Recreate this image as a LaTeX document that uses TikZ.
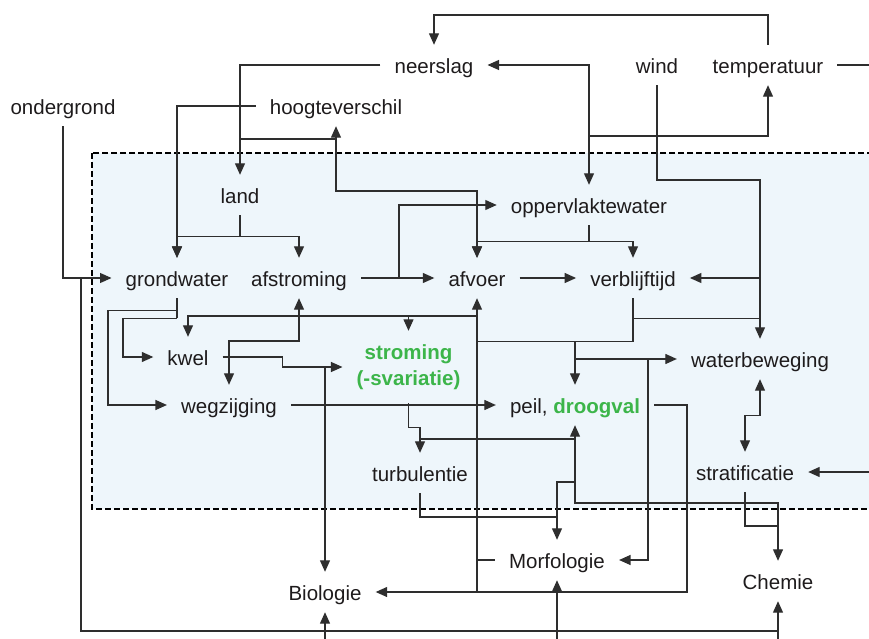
\documentclass[tikz,border=0pt]{standalone}
\usepackage{fontspec}
\setmainfont{Liberation Sans}
\usetikzlibrary{arrows.meta}
\definecolor{ln}{HTML}{2E2E2E}
\definecolor{txt}{HTML}{1E1B1C}
\definecolor{grn}{HTML}{3CB54A}
\definecolor{zone}{HTML}{EEF6FB}
\begin{document}
\begin{tikzpicture}[x=1pt,y=-1pt,
  lbl/.style={inner xsep=14pt, inner ysep=0pt, minimum height=40pt,
    text height=17pt, text depth=0pt,
    font=\fontsize{20.5pt}{24.6pt}\selectfont, text=txt},
  strom/.style={inner xsep=14pt, inner ysep=13.7pt, align=center,
    font=\fontsize{20.5pt}{25.5pt}\selectfont\bfseries, text=grn},
  link/.style={draw=ln, line width=1.2pt},
  tip/.tip={Triangle[length=11.5pt,width=10pt]},
  arr/.style={link, -tip},
  arrs/.style={link, tip-tip},
  zonebox/.style={fill=zone, draw=black, line width=1.4pt, dash pattern=on 6pt off 3pt}
]
\useasboundingbox (0,0) rectangle (869,639);

% water system zone
\draw[zonebox] (92,153) rectangle (878,509);

% factors
\node[lbl] (neerslag) at (434,65) {neerslag};
\node[lbl] (wind) at (657,65) {wind};
\node[lbl] (temperatuur) at (768,65) {temperatuur};
\node[lbl] (ondergrond) at (63,106) {ondergrond};
\node[lbl] (hoogteverschil) at (336,106) {hoogteverschil};
\node[lbl] (land) at (240,195) {land};
\node[lbl] (opp) at (589,205) {oppervlaktewater};
\node[lbl] (grondwater) at (177,278) {grondwater};
\node[lbl] (afstroming) at (299,278) {afstroming};
\node[lbl] (afvoer) at (477,278) {afvoer};
\node[lbl] (verblijftijd) at (633,278) {verblijftijd};
\node[lbl] (kwel) at (188,357) {kwel};
\node[strom] (stroming) at (408.5,367) {stroming\\(-svariatie)};
\node[lbl] (waterbeweging) at (760,359) {waterbeweging};
\node[lbl] (wegzijging) at (229,405) {wegzijging};
\node[lbl] (peil) at (575,405) {peil, \textcolor{grn}{\bfseries droogval}};
\node[lbl] (turbulentie) at (420,473) {turbulentie};
\node[lbl] (stratificatie) at (745,472) {stratificatie};
\node[lbl] (Morfologie) at (557,560) {Morfologie};
\node[lbl] (Biologie) at (325,592) {Biologie};
\node[lbl] (Chemie) at (778,581) {Chemie};

% helper levels
\coordinate (tl) at (600,15);
\coordinate (lh) at (240,139);
\coordinate (hb) at (400,191);
\coordinate (og) at (81,278);
\coordinate (bl) at (81,631);
\coordinate (edge) at (0,641);
\coordinate (ao) at (399,278);
\coordinate (ot) at (589,136);
\coordinate (wb) at (700,180);
\coordinate (wv) at (760,278);
\coordinate (pw) at (575,359);
\coordinate (mw) at (648,359);
\coordinate (pc) at (687,592);
\coordinate (k1) at (477,316);
\coordinate (aw) at (299,341);
\coordinate (pc2) at (700,503);
\coordinate (t1) at (575,439);
\coordinate (t2) at (575,482);
\coordinate (t3) at (0,517);
\coordinate (s1) at (0,526);
\coordinate (re) at (872,472);

% climate and relief
\draw[arr] (temperatuur.north) |- (tl) -| (neerslag.north);
\draw[arr] (neerslag.west) -| (land.north);
\draw[link] (lh) -- (lh -| hoogteverschil.south);
\draw[arrs] (hoogteverschil.south) |- (hb) -| (afvoer.north);
\draw[arr] (hoogteverschil.west) -| (grondwater.north);
\draw[arr] (ondergrond.south) |- (grondwater.west);
\draw[link] (og) -- (bl) -- (bl -| Chemie.south);
\draw[link] (temperatuur.east) -- ++(40,0);

% inputs from below
\draw[arr] (Biologie.south |- edge) -- (Biologie.south);
\draw[arr] (Morfologie.south |- edge) -- (Morfologie.south);
\draw[arr] (Chemie.south |- edge) -- (Chemie.south);

% land
\draw[link] (land.south) -- ++(0,21) coordinate (ls);
\draw[arr] (ls) -| (grondwater.north);
\draw[arr] (ls) -| (afstroming.north);

% surface water
\draw[arr] (afstroming.east) -- (afvoer.west);
\draw[arr] (ao) |- (opp.west);
\draw[arrs] (neerslag.east) -| (opp.north);
\draw[arr] (ot) -| (temperatuur.south);
\draw[link] (opp.south) -- ++(0,16) coordinate (os);
\draw[arr] (os) -| (afvoer.north);
\draw[arr] (os) -| (verblijftijd.north);
\draw[arr] (afvoer.east) -- (verblijftijd.west);

% wind
\draw[arr] (wind.south) |- (wb) -| (waterbeweging.north);
\draw[arr] (wv) -- (verblijftijd.east);

% residence time
\draw[link] (verblijftijd.south) -- ++(0,43) coordinate (vs) -- (vs -| afvoer.south);
\draw[link] (verblijftijd.south) ++(0,20) coordinate (vw) -- (vw -| waterbeweging.north);
\draw[arr] (vs -| peil.north) -- (peil.north);
\draw[arr] (pw) -- (waterbeweging.west);
\draw[arr] (mw) |- (Morfologie.east);

% discharge
\draw[arrs] (afvoer.south) |- (Biologie.east);
\draw[link] (Morfologie.west) -- (Morfologie.west -| afvoer.south);
\draw[link] (peil.east) -| (pc) -- (pc -| afvoer.south);
\draw[arr] (k1) -| (kwel.north);
\draw[arr] (k1 -| stroming.north) -- (stroming.north);
\draw[arrs] (afstroming.south) |- (wegzijging.north |- aw) -- (wegzijging.north);

% groundwater
\draw[link] (grondwater.south) -- ++(0,20);
\draw[arr] (grondwater.south) ++(0,20) -- ++(-54,0) |- (kwel.west);
\draw[arr] (grondwater.south) ++(0,12) -- ++(-69,0) |- (wegzijging.west);
\draw[arr] (kwel.east) -- ++(60,0) |- (stroming.west);
\draw[arr] (Biologie.north |- stroming.west) -- (Biologie.north);
\draw[arr] (wegzijging.east) -- (peil.west);

% flow, level, turbulence
\draw[arr] (stroming.south) -- ++(0,24) -| (turbulentie.north);
\draw[arrs] (peil.south) |- (pc2) -| (Chemie.north);
\draw[link] (t1) -- (t1 -| turbulentie.north);
\draw[arr] (t2) -| (Morfologie.north);
\draw[link] (turbulentie.south) |- (t3 -| Morfologie.north);

% water movement and stratification
\draw[arrs] (waterbeweging.south) -- ++(0,36) -| (stratificatie.north);
\draw[arr] (re) -- (stratificatie.east);
\draw[link] (stratificatie.south) |- (s1 -| Chemie.north);
\end{tikzpicture}
\end{document}
